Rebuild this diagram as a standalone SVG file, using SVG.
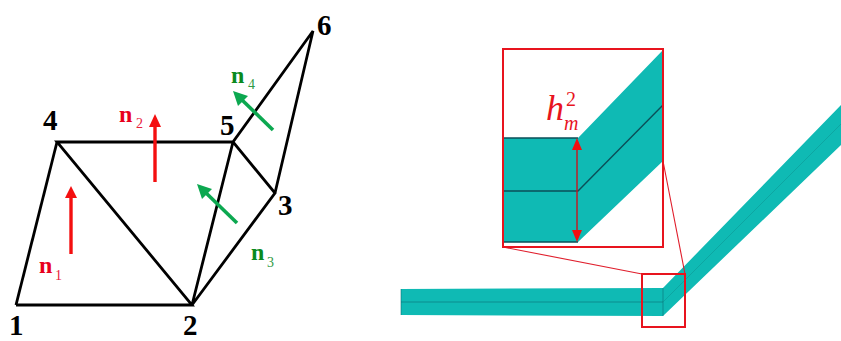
<svg xmlns="http://www.w3.org/2000/svg" width="841" height="341" viewBox="0 0 841 341">
<style>
.mesh{fill:none;stroke:#000;stroke-width:2.8;stroke-linejoin:miter}
.num{font:bold 29px "Liberation Serif",serif;fill:#000}
.nr{font:bold 24px "Liberation Serif",serif;fill:#e8001c}
.sr{font:14px "Liberation Serif",serif;fill:#e8203c}
.ng{font:bold 24px "Liberation Serif",serif;fill:#0a8a1e}
.sg{font:14px "Liberation Serif",serif;fill:#2f9a45}
.ar{stroke:#f40f10;stroke-width:3.4;fill:none}
.ag{stroke:#0ca850;stroke-width:3.6;fill:none}
.hr{fill:#f40f10}
.hg{fill:#0ca850}
.teal{fill:#0fbab4}
.box{fill:none;stroke:#e8141e;stroke-width:2}
.thin{fill:none;stroke:#e01e2c;stroke-width:1.1}
.edge{fill:none;stroke:#0b4f58;stroke-width:1.4}
.edge2{fill:none;stroke:#0b6a72;stroke-width:.8;opacity:.7}
.hl{font-family:"Liberation Serif",serif;font-style:italic;fill:#e8141e}
.hu{font-family:"Liberation Serif",serif;fill:#e8141e}
</style>
<g id="beam">
<polygon class="teal" points="401,289 663,288 841,105 841,145 663,316 401,315"/>
<path class="edge2" d="M401,302H663M663,288V316M401,289V315"/>
<path d="M663,302L841,124" fill="none" stroke="#0b8a88" stroke-width=".8" opacity=".5"/>
</g>
<g id="connectors">
<path class="mesh" d="M16,305H192L57,142H233L192,305L275,193L233,142L313,31L275,193"/>
<path class="mesh" d="M57,142L16,305"/>
<path class="thin" d="M503,247L642,274M663,161L685,274"/>
<path class="ar" d="M71,254V196"/>
<polygon class="hr" points="71,186 65,198 77,198"/>
<path class="ar" d="M155,182V124"/>
<polygon class="hr" points="155,114 149,127 161,127"/>
<path class="ag" d="M237,223L204,191"/>
<polygon class="hg" points="197,184 212,189 202,199"/>
<path class="ag" d="M273,130L240,98"/>
<polygon class="hg" points="233,91 248,96 238,106"/>
</g>
<g id="node-1"><text class="num" x="9" y="334.5">1</text></g>
<g id="node-2"><text class="num" x="183" y="334.5">2</text></g>
<g id="node-3"><text class="num" x="278" y="215">3</text></g>
<g id="node-4"><text class="num" x="43" y="130">4</text></g>
<g id="node-5"><text class="num" x="220" y="135">5</text></g>
<g id="node-6"><text class="num" x="317" y="35">6</text></g>
<g id="n1"><text class="nr" x="39" y="273">n</text><text class="sr" x="55" y="280">1</text></g>
<g id="n2"><text class="nr" x="119" y="122">n</text><text class="sr" x="136" y="128">2</text></g>
<g id="n3"><text class="ng" x="251" y="260">n</text><text class="sg" x="267" y="267">3</text></g>
<g id="n4"><text class="ng" x="231" y="83">n</text><text class="sg" x="248" y="89">4</text></g>
<g id="small-box"><rect class="box" x="642" y="274" width="43" height="53"/></g>
<g id="inset">
<polygon class="teal" points="503,138 578,138 663,50 663,161 578,242 503,242"/>
<path class="edge" d="M503,138H578M503,191H578L663,105M503,242H578"/>
<rect class="box" x="503" y="49" width="160" height="198"/>
<path d="M577,145V235" stroke="#c8141e" stroke-width="1.4" fill="none"/>
<polygon class="hr" points="577,138 572,150 582,150"/>
<polygon class="hr" points="577,242 572,230 582,230"/>
<text class="hl" x="546" y="120" font-size="36">h</text>
<text class="hl" x="564" y="130" font-size="20">m</text>
<text class="hu" x="566" y="106" font-size="20">2</text>
</g>
</svg>
